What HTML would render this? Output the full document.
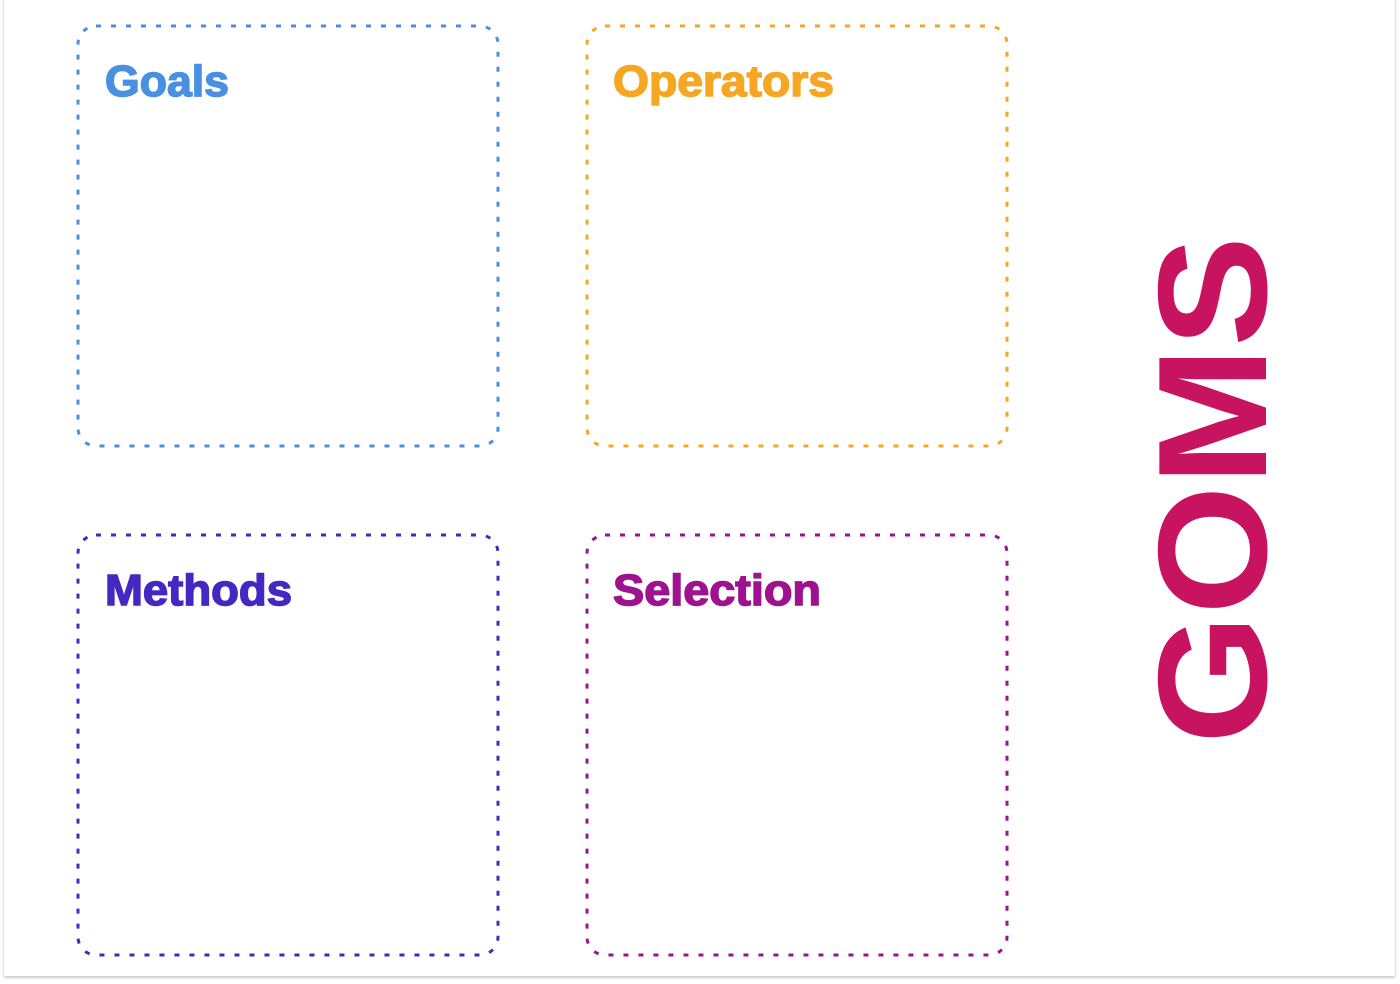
<!DOCTYPE html>
<html><head><meta charset="utf-8"><style>
html,body{margin:0;padding:0;background:#fff;width:1400px;height:984px;overflow:hidden}
</style></head><body>
<svg width="1400" height="984" viewBox="0 0 1400 984" xmlns="http://www.w3.org/2000/svg" style="display:block">
<defs><filter id="sh" x="-2%" y="-2%" width="104%" height="104%"><feDropShadow dx="0" dy="1.5" stdDeviation="1.5" flood-color="#000" flood-opacity="0.25"/></filter></defs>
<rect x="4" y="-4" width="1391" height="980" fill="#fff" filter="url(#sh)"/>
<g fill="none" stroke-width="3" stroke-dasharray="5 10">
<rect x="78" y="26" width="420" height="420" rx="18" stroke="#4a90e2"/>
<rect x="587" y="26" width="420" height="420" rx="18" stroke="#f5a623"/>
<rect x="78" y="535" width="420" height="420" rx="18" stroke="#4328c2"/>
<rect x="587" y="535" width="420" height="420" rx="18" stroke="#9e1290"/>
</g>
<g font-family="Liberation Sans, Arial, sans-serif" font-weight="bold" font-size="44" stroke-width="1.5">
<text x="105" y="96" fill="#4a90e2" stroke="#4a90e2" textLength="124" lengthAdjust="spacingAndGlyphs">Goals</text>
<text x="613" y="96" fill="#f5a623" stroke="#f5a623" textLength="221" lengthAdjust="spacingAndGlyphs">Operators</text>
<text x="105" y="605" fill="#4328c2" stroke="#4328c2" textLength="187" lengthAdjust="spacingAndGlyphs">Methods</text>
<text x="613" y="605" fill="#9e1290" stroke="#9e1290" textLength="208" lengthAdjust="spacingAndGlyphs">Selection</text>
<text transform="translate(1266,744) rotate(-90)" font-size="155" stroke="none" fill="#c81460" textLength="508" lengthAdjust="spacingAndGlyphs">GOMS</text>
</g>
</svg>
</body></html>
